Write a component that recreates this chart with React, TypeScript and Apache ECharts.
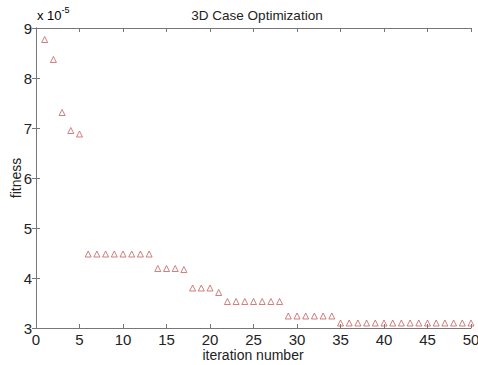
import React, { useEffect, useRef } from "react";
import * as echarts from "echarts";

const iterations: number[] = Array.from({ length: 50 }, (_, i) => i + 1);
const fitness: number[] = [
  8.77, 8.37, 7.31, 6.95, 6.88,
  4.48, 4.48, 4.48, 4.48, 4.48, 4.48, 4.48, 4.48,
  4.19, 4.19, 4.19, 4.17,
  3.8, 3.8, 3.8, 3.71,
  3.53, 3.53, 3.53, 3.53, 3.53, 3.53, 3.53,
  3.24, 3.24, 3.24, 3.24, 3.24, 3.24,
  3.1, 3.1, 3.1, 3.1, 3.1, 3.1, 3.1, 3.1, 3.1, 3.1, 3.1, 3.1, 3.1, 3.1, 3.1, 3.1,
];

const FONT = "Liberation Sans, Arial, sans-serif";

export default function App() {
  const ref = useRef<HTMLDivElement>(null);
  useEffect(() => {
    if (!ref.current) return;
    const chart = echarts.init(ref.current, undefined, { renderer: "svg" });
    const axisLine = { show: true, lineStyle: { color: "#777", width: 1 } };
    const tick = { show: true, inside: true, length: 4, lineStyle: { color: "#777" } };
    chart.setOption({
      animation: false,
      backgroundColor: "#fff",
      title: {
        text: "3D Case Optimization",
        left: 252,
        top: 3,
        textAlign: "center",
        textStyle: { fontFamily: FONT, fontSize: 13.5, fontWeight: "normal", color: "#222" },
      },
      grid: { left: 36, top: 28, width: 435, height: 300, outerBoundsMode: "none", containLabel: false },
      xAxis: [
        {
          type: "value",
          min: 0,
          max: 50,
          interval: 5,
          axisLine,
          axisTick: tick,
          splitLine: { show: false },
          axisLabel: { fontFamily: FONT, fontSize: 15, color: "#222", margin: 4 },
        },
        {
          type: "value",
          position: "top",
          min: 0,
          max: 50,
          interval: 5,
          axisLine,
          axisTick: tick,
          splitLine: { show: false },
          axisLabel: { show: false },
        },
      ],
      yAxis: [
        {
          type: "value",
          min: 3,
          max: 9,
          interval: 1,
          axisLine,
          axisTick: tick,
          splitLine: { show: false },
          axisLabel: { fontFamily: FONT, fontSize: 15, color: "#222", margin: 4 },
        },
        {
          type: "value",
          position: "right",
          min: 3,
          max: 9,
          interval: 1,
          axisLine,
          axisTick: tick,
          splitLine: { show: false },
          axisLabel: { show: false },
        },
      ],
      graphic: [
        {
          type: "text",
          left: 37,
          top: 5,
          style: {
            text: "{a|x 10}{b|-5}",
            rich: {
              a: { fontFamily: FONT, fontSize: 13, color: "#222", verticalAlign: "bottom" },
              b: { fontFamily: FONT, fontSize: 9, color: "#222", padding: [0, 0, 8, 0] },
            },
          },
        },
        {
          type: "text",
          x: 253,
          y: 355,
          style: {
            text: "iteration number",
            fontFamily: FONT,
            fontSize: 14,
            fill: "#222",
            align: "center",
            verticalAlign: "middle",
          },
        },
        {
          type: "text",
          x: 16,
          y: 178,
          rotation: Math.PI / 2,
          style: {
            text: "fitness",
            fontFamily: FONT,
            fontSize: 14,
            fill: "#222",
            align: "center",
            verticalAlign: "middle",
          },
        },
      ],
      series: [
        {
          type: "scatter",
          xAxisIndex: 0,
          yAxisIndex: 0,
          data: iterations.map((x, i) => [x, fitness[i]]),
          symbol: "triangle",
          symbolSize: 6,
          itemStyle: { color: "rgba(255,255,255,0)", borderColor: "#c46060", borderWidth: 1 },
        },
      ],
    });
    return () => chart.dispose();
  }, []);
  return (
    <div
      ref={ref}
      style={{ position: "fixed", left: 0, top: 0, width: 478, height: 365, background: "#fff" }}
    />
  );
}
